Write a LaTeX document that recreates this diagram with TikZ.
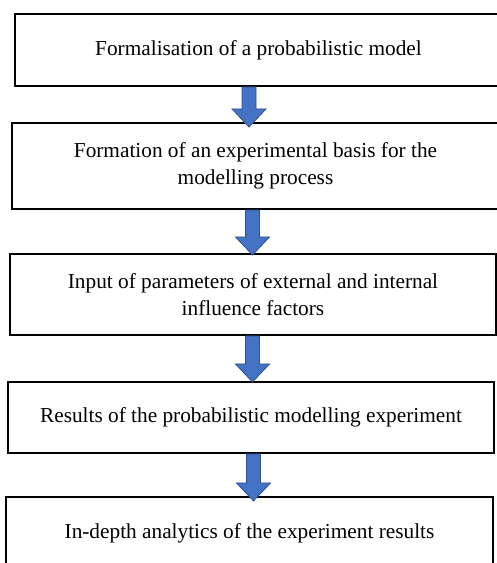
\documentclass[tikz,border=0pt]{standalone}
\usepackage{fontspec}
\setmainfont{Liberation Serif}
\usetikzlibrary{calc}
\definecolor{arrowfill}{HTML}{4472C4}
\definecolor{arrowline}{HTML}{2F528F}
\tikzset{
  stagebox/.style={draw=black, line width=2pt, fill=white, inner sep=0pt,
    align=center, font=\fontsize{21.3}{27}\selectfont},
  blockarr/.style={fill=arrowfill, draw=arrowline, line width=0.8pt, line join=miter}
}
% #1 from node, #2 to node, #3 x centre, #4 how far the tip goes past the top of #2
\newcommand\blockarrow[4]{%
  \path[blockarr] let \p1=(#1.south), \p2=(#2.north) in
    ({#3-7},\y1) -- ({#3+7},\y1) -- ({#3+7},\y2-#4+18) -- ({#3+17},\y2-#4+18)
    -- (#3,\y2-#4) -- ({#3-17},\y2-#4+18) -- ({#3-7},\y2-#4+18) -- cycle;
}
\begin{document}
\begin{tikzpicture}[x=1pt,y=1pt]
\useasboundingbox (0,0) rectangle (497,563);
\clip (0,0) rectangle (497,563);
\node[stagebox, minimum width=487pt, minimum height=72pt] (b1) at (258.5,513)
  {Formalisation of a probabilistic model};
\node[stagebox, minimum width=487pt, minimum height=86pt] (b2) at (255.5,397)
  {Formation of an experimental basis for the\\ modelling process};
\node[stagebox, minimum width=486pt, minimum height=81pt] (b3) at (253,268.5)
  {Input of parameters of external and internal\\ influence factors};
\node[stagebox, minimum width=486pt, minimum height=71pt] (b4) at (251,145.5)
  {Results of the probabilistic modelling experiment};
\node[stagebox, minimum width=487pt, minimum height=73pt] (b5) at (249.5,29.5)
  {In-depth analytics of the experiment results};
\blockarrow{b1}{b2}{249}{5}
\blockarrow{b2}{b3}{252.5}{2}
\blockarrow{b3}{b4}{252.5}{1}
\blockarrow{b4}{b5}{253.5}{5}
\end{tikzpicture}
\end{document}
